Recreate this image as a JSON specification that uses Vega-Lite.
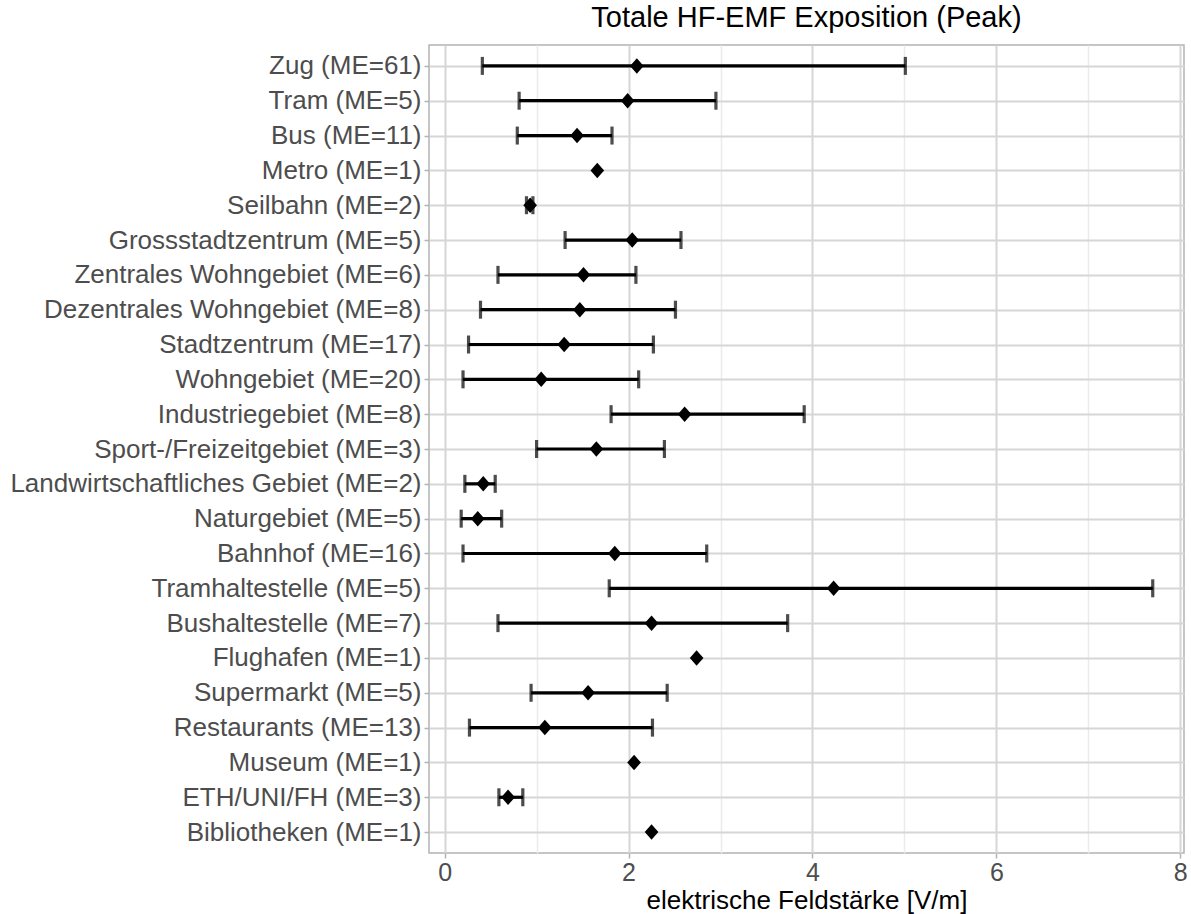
{
  "$schema": "https://vega.github.io/schema/vega-lite/v6.json",
  "autosize": {"type": "none"},
  "width": 755,
  "height": 808,
  "padding": {"left": 429, "top": 45, "right": 7, "bottom": 61},
  "background": "white",
  "config": {
    "font": "Liberation Sans",
    "view": {"stroke": "#B3B3B3", "strokeWidth": 1.5}
  },
  "title": {
    "text": "Totale HF-EMF Exposition (Peak)",
    "fontSize": 29,
    "fontWeight": "normal",
    "color": "#000000",
    "anchor": "middle",
    "baseline": "alphabetic",
    "offset": 15,
    "dy": 26
  },
  "data": {
    "values": [
      {"name": "Zug (ME=61)", "mean": 2.09, "lo": 0.41, "hi": 5.01},
      {"name": "Tram (ME=5)", "mean": 1.99, "lo": 0.81, "hi": 2.95},
      {"name": "Bus (ME=11)", "mean": 1.44, "lo": 0.79, "hi": 1.82},
      {"name": "Metro (ME=1)", "mean": 1.66, "lo": null, "hi": null},
      {"name": "Seilbahn (ME=2)", "mean": 0.93, "lo": 0.89, "hi": 0.96},
      {"name": "Grossstadtzentrum (ME=5)", "mean": 2.04, "lo": 1.31, "hi": 2.57},
      {"name": "Zentrales Wohngebiet (ME=6)", "mean": 1.51, "lo": 0.58, "hi": 2.08},
      {"name": "Dezentrales Wohngebiet (ME=8)", "mean": 1.47, "lo": 0.39, "hi": 2.51},
      {"name": "Stadtzentrum (ME=17)", "mean": 1.30, "lo": 0.26, "hi": 2.27},
      {"name": "Wohngebiet (ME=20)", "mean": 1.05, "lo": 0.20, "hi": 2.11},
      {"name": "Industriegebiet (ME=8)", "mean": 2.61, "lo": 1.81, "hi": 3.91},
      {"name": "Sport-/Freizeitgebiet (ME=3)", "mean": 1.65, "lo": 1.00, "hi": 2.39},
      {"name": "Landwirtschaftliches Gebiet (ME=2)", "mean": 0.42, "lo": 0.22, "hi": 0.55},
      {"name": "Naturgebiet (ME=5)", "mean": 0.36, "lo": 0.18, "hi": 0.62},
      {"name": "Bahnhof (ME=16)", "mean": 1.85, "lo": 0.20, "hi": 2.85},
      {"name": "Tramhaltestelle (ME=5)", "mean": 4.23, "lo": 1.79, "hi": 7.70},
      {"name": "Bushaltestelle (ME=7)", "mean": 2.25, "lo": 0.58, "hi": 3.73},
      {"name": "Flughafen (ME=1)", "mean": 2.74, "lo": null, "hi": null},
      {"name": "Supermarkt (ME=5)", "mean": 1.56, "lo": 0.94, "hi": 2.42},
      {"name": "Restaurants (ME=13)", "mean": 1.09, "lo": 0.27, "hi": 2.26},
      {"name": "Museum (ME=1)", "mean": 2.06, "lo": null, "hi": null},
      {"name": "ETH/UNI/FH (ME=3)", "mean": 0.69, "lo": 0.59, "hi": 0.85},
      {"name": "Bibliotheken (ME=1)", "mean": 2.25, "lo": null, "hi": null}
    ]
  },
  "encoding": {
    "y": {
      "field": "name",
      "type": "nominal",
      "sort": ["Zug (ME=61)", "Tram (ME=5)", "Bus (ME=11)", "Metro (ME=1)", "Seilbahn (ME=2)", "Grossstadtzentrum (ME=5)", "Zentrales Wohngebiet (ME=6)", "Dezentrales Wohngebiet (ME=8)", "Stadtzentrum (ME=17)", "Wohngebiet (ME=20)", "Industriegebiet (ME=8)", "Sport-/Freizeitgebiet (ME=3)", "Landwirtschaftliches Gebiet (ME=2)", "Naturgebiet (ME=5)", "Bahnhof (ME=16)", "Tramhaltestelle (ME=5)", "Bushaltestelle (ME=7)", "Flughafen (ME=1)", "Supermarkt (ME=5)", "Restaurants (ME=13)", "Museum (ME=1)", "ETH/UNI/FH (ME=3)", "Bibliotheken (ME=1)"],
      "scale": {"type": "point", "padding": 0.6},
      "axis": {
        "title": null,
        "domain": false,
        "labelFontSize": 26,
        "labelLimit": 0,
        "labelColor": "#4D4D4D",
        "labelPadding": 3,
        "tickSize": 5,
        "tickColor": "#B3B3B3",
        "tickWidth": 1.5,
        "grid": true,
        "gridColor": "#D6D6D6",
        "gridWidth": 2
      }
    }
  },
  "layer": [
    {
      "mark": {"type": "rule", "color": "#000000", "strokeWidth": 3.2},
      "encoding": {
        "x": {
          "field": "lo",
          "type": "quantitative",
          "scale": {"domain": [-0.17, 8.04], "nice": false, "zero": false},
          "axis": {
            "values": [0, 1, 2, 3, 4, 5, 6, 7, 8],
            "labelExpr": "datum.value % 2 === 0 ? format(datum.value, 'd') : ''",
            "title": "elektrische Feldstärke [V/m]",
            "titleFontSize": 26,
            "titleFontWeight": "normal",
            "titleColor": "#000000",
            "titlePadding": 2,
            "domain": false,
            "labelFontSize": 25,
            "labelColor": "#4D4D4D",
            "labelPadding": 2,
            "labelFlush": false,
            "tickSize": 5,
            "tickColor": "#B3B3B3",
            "tickWidth": 1.5,
            "tickOpacity": {"condition": {"test": "datum.value % 2 === 0", "value": 1}, "value": 0},
            "grid": true,
            "gridColor": {"condition": {"test": "datum.value % 2 === 0", "value": "#D6D6D6"}, "value": "#EBEBEB"},
            "gridWidth": {"condition": {"test": "datum.value % 2 === 0", "value": 2}, "value": 1.5}
          }
        },
        "x2": {"field": "hi"}
      }
    },
    {
      "mark": {"type": "tick", "color": "#000000", "thickness": 3.2, "size": 18, "orient": "vertical"},
      "encoding": {"x": {"field": "lo", "type": "quantitative"}}
    },
    {
      "mark": {"type": "tick", "color": "#000000", "thickness": 3.2, "size": 18, "orient": "vertical"},
      "encoding": {"x": {"field": "hi", "type": "quantitative"}}
    },
    {
      "mark": {"type": "point", "shape": "M0,-1L0.88,0L0,1L-0.88,0Z", "filled": true, "color": "#000000", "opacity": 1, "size": 240},
      "encoding": {"x": {"field": "mean", "type": "quantitative"}}
    }
  ]
}
